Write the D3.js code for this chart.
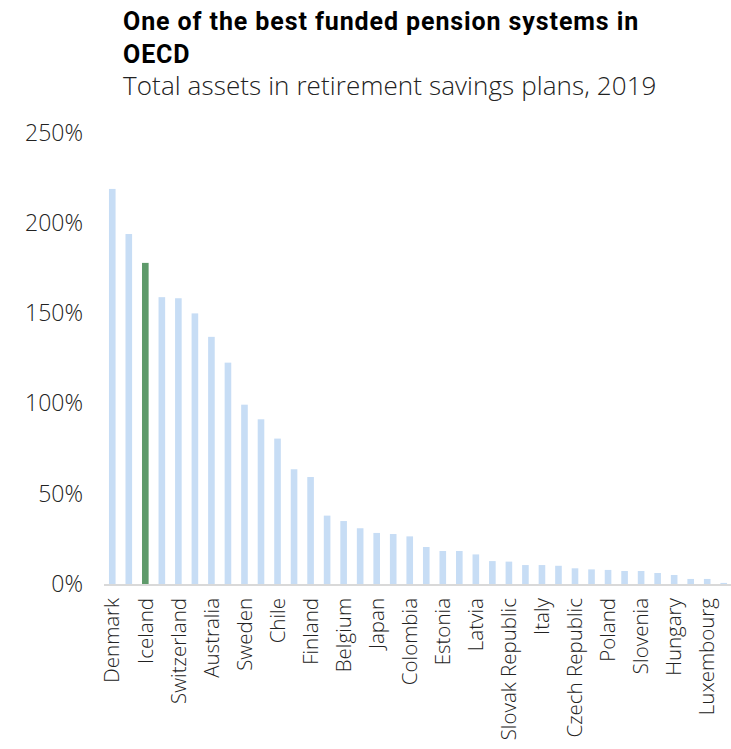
<!DOCTYPE html>
<html>
<head>
<meta charset="utf-8">
<script src="https://cdn.jsdelivr.net/npm/d3@7"></script>
<style>
  html, body { margin: 0; padding: 0; background: #fff; }
  svg { display: block; }
</style>
</head>
<body>
<svg id="chart" width="731" height="749"></svg>
<script>
// ---- Data ----
const countries = [
  "Denmark", "Netherlands", "Iceland", "Canada", "Switzerland", "United States",
  "Australia", "United Kingdom", "Sweden", "Israel", "Chile", "New Zealand",
  "Finland", "Ireland", "Belgium", "Norway", "Japan", "Portugal", "Colombia",
  "Mexico", "Estonia", "Spain", "Latvia", "Lithuania", "Slovak Republic",
  "Austria", "Italy", "Korea", "Czech Republic", "Germany", "Poland", "Turkey",
  "Slovenia", "France", "Hungary", "Greece", "Luxembourg", "Other"
];
const assetsPct = [
  219, 194, 178, 159, 158.4, 150, 137, 122.7, 99.4, 91.3, 80.6, 63.6,
  59.3, 37.9, 34.9, 30.9, 28.3, 27.7, 26.4, 20.5, 18.3, 18.3, 16.4, 12.7,
  12.4, 10.5, 10.5, 10.1, 8.7, 8.1, 7.8, 7.2, 7.2, 6.1, 5.0, 2.8, 2.8, 0.6
];
const highlight = ["Iceland"];
const yTicks = [0, 50, 100, 150, 200, 250];
const titleLines = ["One of the best funded pension systems in", "OECD"];
const subtitle = "Total assets in retirement savings plans, 2019";

// ---- Layout ----
const svg = d3.select("#chart");
const x = d3.scaleBand().domain(countries).range([104, 732]).paddingInner(0.6).paddingOuter(0.3);
const y = d3.scaleLinear().domain([0, 250]).range([584, 133]);

// Title
const title = svg.append("text")
  .attr("x", 123).attr("y", 30)
  .style("font-family", "'Liberation Sans Narrow', 'Roboto', sans-serif")
  .style("font-weight", "700").style("font-size", "25px").style("fill", "#000")
  .style("letter-spacing", "0.9px");
titleLines.forEach((t, i) => {
  title.append("tspan").attr("x", 123).attr("y", 30 + i * 33).text(t);
});
svg.append("text")
  .attr("x", 123).attr("y", 95)
  .style("font-family", "'Open Sans', sans-serif")
  .style("font-weight", "300").style("font-size", "26px").style("fill", "#222")
  .style("letter-spacing", "0.1px")
  .text(subtitle);

// Y axis labels (no line)
const yAxis = d3.axisLeft(y).tickValues(yTicks).tickSize(0).tickPadding(0)
  .tickFormat(d => d + "%");
const gy = svg.append("g").attr("transform", "translate(83,0)").call(yAxis);
gy.select(".domain").remove();
gy.selectAll("text")
  .style("font-family", "'Open Sans', sans-serif")
  .style("font-weight", "300").style("font-size", "23px").style("fill", "#222");

// Bars
svg.append("g").selectAll("rect").data(countries).join("rect")
  .attr("x", d => x(d))
  .attr("width", x.bandwidth())
  .attr("y", (d, i) => y(assetsPct[i]))
  .attr("height", (d, i) => y(0) - y(assetsPct[i]))
  .attr("fill", d => highlight.includes(d) ? "#5e9a6a" : "#c7ddf5");

// X axis
const xAxis = d3.axisBottom(x).tickSize(0).tickPadding(0)
  .tickFormat((d, i) => i % 2 === 0 ? d : "");
const gx = svg.append("g").attr("transform", "translate(0,584)").call(xAxis);
gx.select(".domain").attr("stroke", "#d9d9d9").attr("stroke-width", 2).attr("d", "M104,1H732");
gx.selectAll("text")
  .attr("transform", "rotate(-90)")
  .attr("x", -14).attr("y", 0).attr("dy", "0.35em")
  .style("text-anchor", "end")
  .style("font-family", "'Open Sans', sans-serif")
  .style("font-weight", "300").style("font-size", "20.5px").style("fill", "#222");
</script>
</body>
</html>
